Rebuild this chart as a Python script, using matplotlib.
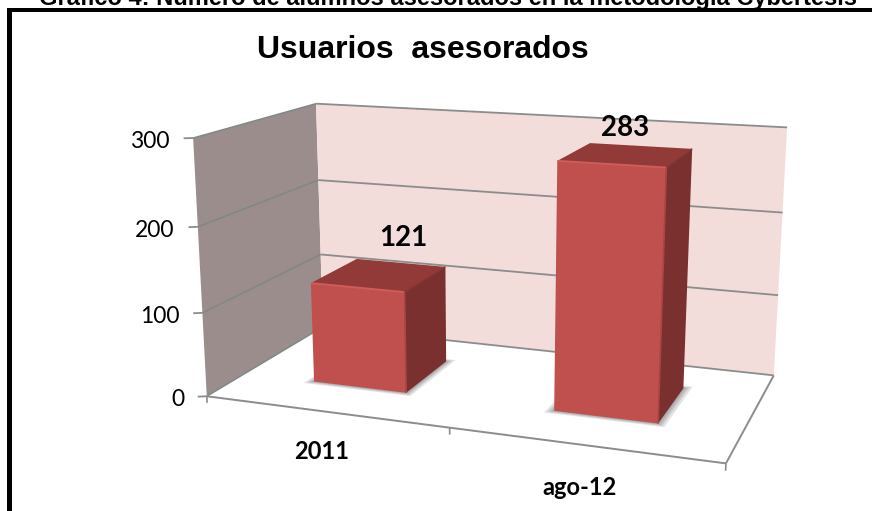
import numpy as np
import matplotlib
matplotlib.use("Agg")
from matplotlib import pyplot as plt
from matplotlib.patches import Rectangle
from mpl_toolkits.mplot3d import proj3d
from mpl_toolkits.mplot3d.art3d import Poly3DCollection, Line3DCollection

categories = ["2011", "ago-12"]
values = [121, 283]
y_ticks = [0, 100, 200, 300]
x_edge_ticks = [0, 1, 2]

# where the bars sit on the floor of the excel style box
bar_left = [0.307, 1.30]
bar_width = 0.395
bar_front = 0.30
bar_depth = 0.42
# data labels were dragged by hand in the original
label_x = [0.59, 1.48]
label_z = [165, 310]

# camera: box corners (cat, depth, value) -> image pixel, fitted below
calib_world = [(0, 0, 0), (0, 0, 100), (0, 0, 200), (0, 0, 300),
               (0, 1, 0), (0, 1, 100), (0, 1, 200), (0, 1, 300),
               (2, 1, 0), (2, 1, 100), (2, 1, 200), (2, 1, 300),
               (2, 0, 0)]
calib_pixel = [(207, 396), (203, 312), (198, 227), (192, 138.5),
               (322, 328), (321, 254), (318.5, 180), (316.5, 103.5),
               (774, 375), (778, 295), (782, 212), (787.5, 128),
               (726, 464)]


def fitCamera(world, pixel):
    rows = []
    rhs = []
    for (x, y, z), (u, v) in zip(world, pixel):
        rows.append([x, y, z, 1, 0, 0, 0, 0, -u * x, -u * y, -u * z])
        rows.append([0, 0, 0, 0, x, y, z, 1, -v * x, -v * y, -v * z])
        rhs += [u, v]
    p = np.linalg.lstsq(np.array(rows, float), np.array(rhs, float), rcond=None)[0]
    return np.array([p[:4],
                     p[4:8],
                     [-0.01, 1, -0.00001, 0],
                     [p[8], p[9], p[10], 1]])


CAMERA = fitCamera(calib_world, calib_pixel)

fig = plt.figure(figsize=(8.81, 5.11), dpi=100, facecolor="white")
ax = fig.add_axes([0, 0, 1, 1], projection="3d", computed_zorder=False)
ax.set_axis_off()
ax.get_proj = lambda: CAMERA
ax.apply_aspect = lambda position=None: None


def addLine(start, end, color, lw, zorder=2):
    col = Line3DCollection([[start, end]], colors=color, linewidths=lw, zorder=zorder)
    ax.add_collection3d(col)


def addText(x, y, z, s, ha="center", **kw):
    u, v, _ = proj3d.proj_transform(x, y, z, CAMERA)
    ax.text2D(float(u), float(v), s, transform=ax.transData, ha=ha, va="center",
              family="Lato", color="black", zorder=7, **kw)


GRID = "#8c8c8c"
SIDE_GRID = "#7f8888"
z_max = y_ticks[-1]
x_max = x_edge_ticks[-1]

# walls
side = Poly3DCollection([[(0, 0, 0), (0, 1, 0), (0, 1, z_max), (0, 0, z_max)]],
                        facecolors="#9a8d8b", edgecolors="none", zorder=1)
back = Poly3DCollection([[(0, 1, 0), (x_max, 1, 0), (x_max, 1, z_max), (0, 1, z_max)]],
                        facecolors="#f2dddb", edgecolors="none", zorder=1)
ax.add_collection3d(side)
ax.add_collection3d(back)

for v in y_ticks:
    addLine((0, 0, v), (0, 1, v), SIDE_GRID, 1.1)
    addLine((0, 1, v), (x_max, 1, v), GRID, 1.3)
    addLine((-0.03, -0.016, v), (0, 0, v), GRID, 1.3)
    addText(-0.075, -0.04, v - 3, str(v), ha="right", fontsize=16.5)

# floor outline and category ticks
addLine((0, 0, 0), (x_max, 0, 0), GRID, 1.4)
addLine((x_max, 0, 0), (x_max, 1, 0), GRID, 1.4)
for x in x_edge_ticks:
    addLine((x, 0, 0), (x, 0, -8), GRID, 1.2)

FRONT = "#c0504d"
TOP = "#923a38"
RIGHT = "#7a302e"
NONE = (0, 0, 0, 0)
faces = [NONE, TOP, FRONT, NONE, NONE, RIGHT]  # -z +z -y +y -x +x

for i, val in enumerate(values):
    x0 = bar_left[i]
    x1 = x0 + bar_width
    y0 = bar_front
    y1 = y0 + bar_depth
    # soft shadow on the floor, a few see through layers
    for grow in [0.03, 0.02, 0.012, 0.005]:
        shadow = Poly3DCollection([[(x0 - grow, y0 - grow, 0), (x1 + grow, y0 - grow, 0),
                                    (x1 + grow, y1 + grow, 0), (x0 - grow, y1 + grow, 0)]],
                                  facecolors=(0.35, 0.35, 0.35, 0.17), edgecolors="none",
                                  zorder=3)
        ax.add_collection3d(shadow)
    ax.bar3d(x0, y0, 0, bar_width, bar_depth, val, color=faces, shade=False,
             linewidth=0, zorder=4)
    # bevel highlights
    addLine((x0, y0, val), (x1, y0, val), "#cd5d5a", 1.4, zorder=5)
    addLine((x1, y0, 0), (x1, y0, val), "#a84441", 1.2, zorder=5)
    addLine((x1, y0, val), (x1, y1, val), "#873634", 1.2, zorder=5)
    addText(label_x[i], 0.55, label_z[i], str(val), fontsize=20, fontweight="bold")
    addText(x0 + bar_width / 2 + 0.005, -0.05, -42, categories[i], fontsize=17, fontweight="bold")

ax.viewLim.intervalx = (0, 881)
ax.viewLim.intervaly = (511, 0)

# outer frame of the pasted picture, only left and top survive
fig.add_artist(Rectangle((7 / 881, 0), 4.5 / 881, 1 - 8 / 511, transform=fig.transFigure,
                         facecolor="black", edgecolor="none"))
fig.add_artist(Rectangle((7 / 881, 1 - 12.5 / 511), 864.5 / 881, 4.5 / 511,
                         transform=fig.transFigure, facecolor="black", edgecolor="none"))

fig.text(423 / 881, 1 - 50 / 511, "Usuarios  asesorados", ha="center", va="center",
         fontsize=23, fontweight="bold", family="Liberation Sans", color="black")
fig.text(448 / 881, 1 - 5 / 511, "Gráfico 4: Número de alumnos asesorados en la metodología Cybertesis",
         ha="center", va="baseline", fontsize=17, fontweight="bold",
         family="Liberation Sans", color="black")

fig.savefig("out.png", dpi=100)
